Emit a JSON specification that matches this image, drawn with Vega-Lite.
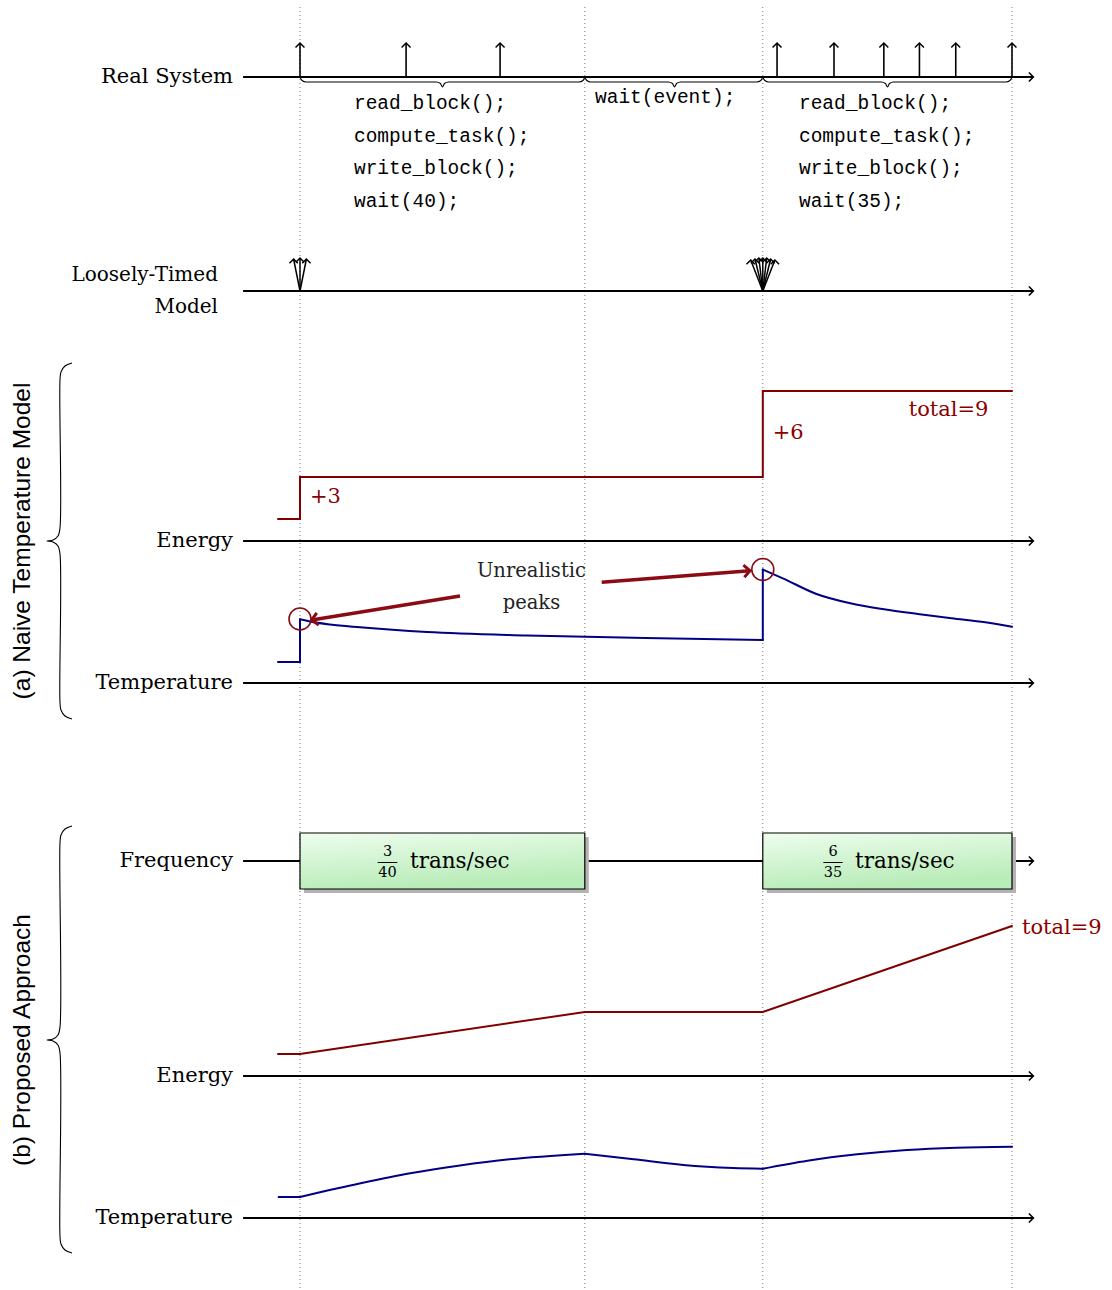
{
  "$schema": "https://vega.github.io/schema/vega-lite/v6.json",
  "width": 1112,
  "height": 1290,
  "autosize": "none",
  "padding": 0,
  "background": "white",
  "config": {"view": {"stroke": null}},
  "datasets": {
    "guides": [
      {"t": 0, "v": 128.3, "v2": 0},
      {"t": 40, "v": 128.3, "v2": 0},
      {"t": 65, "v": 128.3, "v2": 0},
      {"t": 100, "v": 128.3, "v2": 0}
    ],
    "axes": [
      {"lane": "Real System", "t": -8, "t2": 103, "v": 121.3},
      {"lane": "Loosely-Timed Model", "t": -8, "t2": 103, "v": 99.9},
      {"lane": "Energy (a)", "t": -8, "t2": 103, "v": 74.9},
      {"lane": "Temperature (a)", "t": -8, "t2": 103, "v": 60.7},
      {"lane": "Frequency (b)", "t": -8, "t2": 103, "v": 42.9},
      {"lane": "Energy (b)", "t": -8, "t2": 103, "v": 21.4},
      {"lane": "Temperature (b)", "t": -8, "t2": 103, "v": 7.2}
    ],
    "sysArrows": [
      {"t": 0, "v": 121.3, "v2": 124.7},
      {"t": 14.9, "v": 121.3, "v2": 124.7},
      {"t": 28.1, "v": 121.3, "v2": 124.7},
      {"t": 67.0, "v": 121.3, "v2": 124.7},
      {"t": 75.0, "v": 121.3, "v2": 124.7},
      {"t": 82.0, "v": 121.3, "v2": 124.7},
      {"t": 87.0, "v": 121.3, "v2": 124.7},
      {"t": 92.1, "v": 121.3, "v2": 124.7},
      {"t": 100, "v": 121.3, "v2": 124.7}
    ],
    "ltArrows": [
      {"t": 0, "v": 99.9, "t2": -0.9, "v2": 103.1},
      {"t": 0, "v": 99.9, "t2": 0, "v2": 103.2},
      {"t": 0, "v": 99.9, "t2": 0.9, "v2": 103.1},
      {"t": 65, "v": 99.9, "t2": 63.3, "v2": 103.0},
      {"t": 65, "v": 99.9, "t2": 63.9, "v2": 103.1},
      {"t": 65, "v": 99.9, "t2": 64.45, "v2": 103.2},
      {"t": 65, "v": 99.9, "t2": 65, "v2": 103.2},
      {"t": 65, "v": 99.9, "t2": 65.55, "v2": 103.2},
      {"t": 65, "v": 99.9, "t2": 66.1, "v2": 103.1},
      {"t": 65, "v": 99.9, "t2": 66.7, "v2": 103.0}
    ],
    "braces": [
      {"id": 1, "i": 0, "t": 0, "v": 121.3},
      {"id": 1, "i": 1, "t": 0.28, "v": 120.95},
      {"id": 1, "i": 2, "t": 0.84, "v": 120.8},
      {"id": 1, "i": 3, "t": 19.17, "v": 120.8},
      {"id": 1, "i": 4, "t": 19.73, "v": 120.65},
      {"id": 1, "i": 5, "t": 20.01, "v": 120.3},
      {"id": 1, "i": 6, "t": 20.29, "v": 120.65},
      {"id": 1, "i": 7, "t": 20.86, "v": 120.8},
      {"id": 1, "i": 8, "t": 39.19, "v": 120.8},
      {"id": 1, "i": 9, "t": 39.75, "v": 120.95},
      {"id": 1, "i": 10, "t": 40, "v": 121.3},
      {"id": 2, "i": 0, "t": 40, "v": 121.3},
      {"id": 2, "i": 1, "t": 40.28, "v": 120.95},
      {"id": 2, "i": 2, "t": 40.84, "v": 120.8},
      {"id": 2, "i": 3, "t": 51.76, "v": 120.8},
      {"id": 2, "i": 4, "t": 52.32, "v": 120.65},
      {"id": 2, "i": 5, "t": 52.6, "v": 120.3},
      {"id": 2, "i": 6, "t": 52.88, "v": 120.65},
      {"id": 2, "i": 7, "t": 53.44, "v": 120.8},
      {"id": 2, "i": 8, "t": 64.16, "v": 120.8},
      {"id": 2, "i": 9, "t": 64.72, "v": 120.95},
      {"id": 2, "i": 10, "t": 65, "v": 121.3},
      {"id": 3, "i": 0, "t": 65, "v": 121.3},
      {"id": 3, "i": 1, "t": 65.28, "v": 120.95},
      {"id": 3, "i": 2, "t": 65.84, "v": 120.8},
      {"id": 3, "i": 3, "t": 81.67, "v": 120.8},
      {"id": 3, "i": 4, "t": 82.23, "v": 120.65},
      {"id": 3, "i": 5, "t": 82.51, "v": 120.3},
      {"id": 3, "i": 6, "t": 82.79, "v": 120.65},
      {"id": 3, "i": 7, "t": 83.35, "v": 120.8},
      {"id": 3, "i": 8, "t": 99.16, "v": 120.8},
      {"id": 3, "i": 9, "t": 99.72, "v": 120.95},
      {"id": 3, "i": 10, "t": 100, "v": 121.3}
    ],
    "code": [
      {"t": 7.58, "v": 118.7, "text": "read_block();"},
      {"t": 7.58, "v": 115.4, "text": "compute_task();"},
      {"t": 7.58, "v": 112.2, "text": "write_block();"},
      {"t": 7.58, "v": 108.9, "text": "wait(40);"},
      {"t": 41.43, "v": 119.3, "text": "wait(event);"},
      {"t": 70.08, "v": 118.7, "text": "read_block();"},
      {"t": 70.08, "v": 115.4, "text": "compute_task();"},
      {"t": 70.08, "v": 112.2, "text": "write_block();"},
      {"t": 70.08, "v": 108.9, "text": "wait(35);"}
    ],
    "labels": [
      {"t": -9.41, "v": 121.3, "text": "Real System"},
      {"t": -9.41, "v": 74.9, "text": "Energy"},
      {"t": -9.41, "v": 60.7, "text": "Temperature"},
      {"t": -9.41, "v": 42.9, "text": "Frequency"},
      {"t": -9.41, "v": 21.4, "text": "Energy"},
      {"t": -9.41, "v": 7.2, "text": "Temperature"}
    ],
    "ltLabels": [
      {"t": -11.52, "v": 101.5, "text": "Loosely-Timed"},
      {"t": -11.52, "v": 98.3, "text": "Model"}
    ],
    "panelLabels": [
      {"t": -38.9, "v": 74.9, "text": "(a) Naive Temperature Model"},
      {"t": -38.9, "v": 25.0, "text": "(b) Proposed Approach"}
    ],
    "panelBraces": [
      {"id": "a", "i": 0, "t": -32.02, "v": 92.7},
      {"id": "a", "i": 1, "t": -33.01, "v": 92.4},
      {"id": "a", "i": 2, "t": -33.57, "v": 91.8},
      {"id": "a", "i": 3, "t": -33.71, "v": 91.0},
      {"id": "a", "i": 4, "t": -33.71, "v": 76.2},
      {"id": "a", "i": 5, "t": -33.99, "v": 75.4},
      {"id": "a", "i": 6, "t": -34.69, "v": 75.0},
      {"id": "a", "i": 7, "t": -35.53, "v": 74.9},
      {"id": "a", "i": 8, "t": -34.69, "v": 74.8},
      {"id": "a", "i": 9, "t": -33.99, "v": 74.4},
      {"id": "a", "i": 10, "t": -33.71, "v": 73.6},
      {"id": "a", "i": 11, "t": -33.71, "v": 58.8},
      {"id": "a", "i": 12, "t": -33.57, "v": 58.0},
      {"id": "a", "i": 13, "t": -33.01, "v": 57.4},
      {"id": "a", "i": 14, "t": -32.02, "v": 57.1},
      {"id": "b", "i": 0, "t": -32.02, "v": 46.4},
      {"id": "b", "i": 1, "t": -33.01, "v": 46.1},
      {"id": "b", "i": 2, "t": -33.57, "v": 45.5},
      {"id": "b", "i": 3, "t": -33.71, "v": 44.7},
      {"id": "b", "i": 4, "t": -33.71, "v": 26.3},
      {"id": "b", "i": 5, "t": -33.99, "v": 25.5},
      {"id": "b", "i": 6, "t": -34.69, "v": 25.1},
      {"id": "b", "i": 7, "t": -35.53, "v": 25.0},
      {"id": "b", "i": 8, "t": -34.69, "v": 24.9},
      {"id": "b", "i": 9, "t": -33.99, "v": 24.5},
      {"id": "b", "i": 10, "t": -33.71, "v": 23.7},
      {"id": "b", "i": 11, "t": -33.71, "v": 5.4},
      {"id": "b", "i": 12, "t": -33.57, "v": 4.6},
      {"id": "b", "i": 13, "t": -33.01, "v": 4.0},
      {"id": "b", "i": 14, "t": -32.02, "v": 3.7}
    ],
    "curves": [
      {"seg": "energyA", "kind": "energy", "part": "step", "i": 0, "t": -3.09, "v": 77.1},
      {"seg": "energyA", "kind": "energy", "part": "step", "i": 1, "t": 0, "v": 77.1},
      {"seg": "energyA", "kind": "energy", "part": "step", "i": 2, "t": 0, "v": 81.3},
      {"seg": "energyA", "kind": "energy", "part": "step", "i": 3, "t": 65, "v": 81.3},
      {"seg": "energyA", "kind": "energy", "part": "step", "i": 4, "t": 65, "v": 89.9},
      {"seg": "energyA", "kind": "energy", "part": "step", "i": 5, "t": 100, "v": 89.9},
      {"seg": "tempA-0", "kind": "temperature", "part": "step", "i": 0, "t": -3.09, "v": 62.8},
      {"seg": "tempA-0", "kind": "temperature", "part": "step", "i": 1, "t": 0, "v": 62.8},
      {"seg": "tempA-0", "kind": "temperature", "part": "step", "i": 2, "t": 0, "v": 67.07},
      {"seg": "tempA-1", "kind": "temperature", "part": "decay", "i": 0, "t": 0, "v": 67.07},
      {"seg": "tempA-1", "kind": "temperature", "part": "decay", "i": 1, "t": 1.4, "v": 66.85},
      {"seg": "tempA-1", "kind": "temperature", "part": "decay", "i": 2, "t": 4.21, "v": 66.55},
      {"seg": "tempA-1", "kind": "temperature", "part": "decay", "i": 3, "t": 8.43, "v": 66.27},
      {"seg": "tempA-1", "kind": "temperature", "part": "decay", "i": 4, "t": 17.84, "v": 65.8},
      {"seg": "tempA-1", "kind": "temperature", "part": "decay", "i": 5, "t": 31.88, "v": 65.45},
      {"seg": "tempA-1", "kind": "temperature", "part": "decay", "i": 6, "t": 50.56, "v": 65.17},
      {"seg": "tempA-1", "kind": "temperature", "part": "decay", "i": 7, "t": 65, "v": 65.0},
      {"seg": "tempA-2", "kind": "temperature", "part": "step", "i": 0, "t": 65, "v": 65.0},
      {"seg": "tempA-2", "kind": "temperature", "part": "step", "i": 1, "t": 65, "v": 72.05},
      {"seg": "tempA-3", "kind": "temperature", "part": "decay", "i": 0, "t": 65, "v": 72.05},
      {"seg": "tempA-3", "kind": "temperature", "part": "decay", "i": 1, "t": 67.81, "v": 71.17},
      {"seg": "tempA-3", "kind": "temperature", "part": "decay", "i": 2, "t": 72.54, "v": 69.6},
      {"seg": "tempA-3", "kind": "temperature", "part": "decay", "i": 3, "t": 77.29, "v": 68.67},
      {"seg": "tempA-3", "kind": "temperature", "part": "decay", "i": 4, "t": 82.02, "v": 68.07},
      {"seg": "tempA-3", "kind": "temperature", "part": "decay", "i": 5, "t": 86.77, "v": 67.6},
      {"seg": "tempA-3", "kind": "temperature", "part": "decay", "i": 6, "t": 91.5, "v": 67.17},
      {"seg": "tempA-3", "kind": "temperature", "part": "decay", "i": 7, "t": 96.25, "v": 66.77},
      {"seg": "tempA-3", "kind": "temperature", "part": "decay", "i": 8, "t": 100, "v": 66.33},
      {"seg": "energyB", "kind": "energy", "part": "step", "i": 0, "t": -3.09, "v": 23.6},
      {"seg": "energyB", "kind": "energy", "part": "step", "i": 1, "t": 0, "v": 23.6},
      {"seg": "energyB", "kind": "energy", "part": "step", "i": 2, "t": 40, "v": 27.8},
      {"seg": "energyB", "kind": "energy", "part": "step", "i": 3, "t": 65, "v": 27.8},
      {"seg": "energyB", "kind": "energy", "part": "step", "i": 4, "t": 100, "v": 36.4},
      {"seg": "tempB-0", "kind": "temperature", "part": "step", "i": 0, "t": -3.0, "v": 9.3},
      {"seg": "tempB-0", "kind": "temperature", "part": "step", "i": 1, "t": 0, "v": 9.3},
      {"seg": "tempB-1", "kind": "temperature", "part": "decay", "i": 0, "t": 0, "v": 9.3},
      {"seg": "tempB-1", "kind": "temperature", "part": "decay", "i": 1, "t": 8.51, "v": 10.67},
      {"seg": "tempB-1", "kind": "temperature", "part": "decay", "i": 2, "t": 15.48, "v": 11.67},
      {"seg": "tempB-1", "kind": "temperature", "part": "decay", "i": 3, "t": 22.46, "v": 12.45},
      {"seg": "tempB-1", "kind": "temperature", "part": "decay", "i": 4, "t": 29.42, "v": 13.07},
      {"seg": "tempB-1", "kind": "temperature", "part": "decay", "i": 5, "t": 40, "v": 13.63},
      {"seg": "tempB-2", "kind": "temperature", "part": "decay", "i": 0, "t": 40, "v": 13.63},
      {"seg": "tempB-2", "kind": "temperature", "part": "decay", "i": 1, "t": 46.87, "v": 13.07},
      {"seg": "tempB-2", "kind": "temperature", "part": "decay", "i": 2, "t": 53.83, "v": 12.5},
      {"seg": "tempB-2", "kind": "temperature", "part": "decay", "i": 3, "t": 60.81, "v": 12.2},
      {"seg": "tempB-2", "kind": "temperature", "part": "decay", "i": 4, "t": 65, "v": 12.13},
      {"seg": "tempB-3", "kind": "temperature", "part": "decay", "i": 0, "t": 65, "v": 12.13},
      {"seg": "tempB-3", "kind": "temperature", "part": "decay", "i": 1, "t": 71.28, "v": 12.93},
      {"seg": "tempB-3", "kind": "temperature", "part": "decay", "i": 2, "t": 78.24, "v": 13.57},
      {"seg": "tempB-3", "kind": "temperature", "part": "decay", "i": 3, "t": 85.22, "v": 14.0},
      {"seg": "tempB-3", "kind": "temperature", "part": "decay", "i": 4, "t": 92.19, "v": 14.23},
      {"seg": "tempB-3", "kind": "temperature", "part": "decay", "i": 5, "t": 100, "v": 14.33}
    ],
    "circles": [
      {"t": 0, "v": 67.1},
      {"t": 65, "v": 72.05}
    ],
    "redArrows": [
      {"dir": "left", "t": 22.47, "v": 69.4, "t2": 1.64, "v2": 67.0},
      {"dir": "right", "t": 42.37, "v": 70.77, "t2": 63.2, "v2": 71.93}
    ],
    "peaksText": [
      {"t": 32.5, "v": 71.9, "text": "Unrealistic"},
      {"t": 32.5, "v": 68.7, "text": "peaks"}
    ],
    "redLabels": [
      {"t": 1.4, "v": 79.3, "text": "+3"},
      {"t": 66.4, "v": 85.7, "text": "+6"},
      {"t": 85.5, "v": 88.0, "text": "total=9"},
      {"t": 101.4, "v": 36.2, "text": "total=9"}
    ],
    "boxes": [
      {"t": 0, "t2": 40, "v": 45.7, "v2": 40.1},
      {"t": 65, "t2": 100, "v": 45.7, "v2": 40.1}
    ],
    "fracText": [
      {"t": 12.29, "v": 43.85, "text": "3"},
      {"t": 12.29, "v": 41.75, "text": "40"},
      {"t": 74.86, "v": 43.85, "text": "6"},
      {"t": 74.86, "v": 41.75, "text": "35"}
    ],
    "fracBars": [
      {"t": 10.91, "t2": 13.67, "v": 42.75},
      {"t": 73.5, "t2": 76.22, "v": 42.75}
    ],
    "boxText": [
      {"t": 15.45, "v": 42.85, "text": "trans/sec"},
      {"t": 77.95, "v": 42.85, "text": "trans/sec"}
    ]
  },
  "encoding": {
    "x": {"field": "t", "type": "quantitative", "scale": {"domain": [-42.135, 114.045], "nice": false, "zero": false}, "axis": null},
    "y": {"field": "v", "type": "quantitative", "scale": {"domain": [0, 129], "nice": false, "zero": false}, "axis": null}
  },
  "layer": [
    {
      "data": {"name": "guides"},
      "mark": {"type": "rule", "stroke": "#777777", "strokeWidth": 1, "strokeDash": [1, 3]},
      "encoding": {"y2": {"field": "v2"}}
    },
    {
      "data": {"name": "axes"},
      "mark": {"type": "rule", "stroke": "black", "strokeWidth": 1.8},
      "encoding": {"x2": {"field": "t2"}}
    },
    {
      "data": {"name": "axes"},
      "mark": {"type": "point", "shape": "M-1,-1L0,0L-1,1", "size": 80, "filled": false, "stroke": "black", "strokeWidth": 1.6, "opacity": 1},
      "encoding": {"x": {"field": "t2", "type": "quantitative", "scale": {"domain": [-42.135, 114.045], "nice": false, "zero": false}, "axis": null}}
    },
    {
      "data": {"name": "boxes"},
      "mark": {"type": "rect", "fill": "#b3b3b3", "xOffset": 4, "x2Offset": 4, "yOffset": 4, "y2Offset": 4},
      "encoding": {"x2": {"field": "t2"}, "y2": {"field": "v2"}}
    },
    {
      "data": {"name": "boxes"},
      "mark": {
        "type": "rect",
        "fill": {"gradient": "linear", "x1": 0, "y1": 0, "x2": 0.3, "y2": 1, "stops": [{"offset": 0, "color": "#eefdee"}, {"offset": 1, "color": "#b8ecb8"}]},
        "stroke": "black",
        "strokeWidth": 1.2
      },
      "encoding": {"x2": {"field": "t2"}, "y2": {"field": "v2"}}
    },
    {
      "data": {"name": "sysArrows"},
      "mark": {"type": "rule", "stroke": "black", "strokeWidth": 1.6},
      "encoding": {"y2": {"field": "v2"}}
    },
    {
      "data": {"name": "sysArrows"},
      "mark": {"type": "point", "shape": "M-1,1L0,0L1,1", "size": 80, "filled": false, "stroke": "black", "strokeWidth": 1.5, "opacity": 1},
      "encoding": {"y": {"field": "v2", "type": "quantitative", "scale": {"domain": [0, 129], "nice": false, "zero": false}, "axis": null}}
    },
    {
      "data": {"name": "ltArrows"},
      "mark": {"type": "rule", "stroke": "black", "strokeWidth": 1.5},
      "encoding": {"x2": {"field": "t2"}, "y2": {"field": "v2"}}
    },
    {
      "data": {"name": "ltArrows"},
      "mark": {"type": "point", "shape": "M-1,1L0,0L1,1", "size": 70, "filled": false, "stroke": "black", "strokeWidth": 1.5, "opacity": 1},
      "encoding": {
        "x": {"field": "t2", "type": "quantitative", "scale": {"domain": [-42.135, 114.045], "nice": false, "zero": false}, "axis": null},
        "y": {"field": "v2", "type": "quantitative", "scale": {"domain": [0, 129], "nice": false, "zero": false}, "axis": null}
      }
    },
    {
      "data": {"name": "braces"},
      "mark": {"type": "line", "stroke": "black", "strokeWidth": 1.1, "interpolate": "monotone"},
      "encoding": {"detail": {"field": "id"}, "order": {"field": "i", "type": "quantitative"}}
    },
    {
      "data": {"name": "code"},
      "mark": {"type": "text", "font": "Liberation Mono", "fontSize": 19.5, "align": "left", "baseline": "middle", "fill": "black"},
      "encoding": {"text": {"field": "text"}}
    },
    {
      "data": {"name": "labels"},
      "mark": {"type": "text", "font": "DejaVu Serif", "fontSize": 21, "align": "right", "baseline": "middle", "fill": "black"},
      "encoding": {"text": {"field": "text"}}
    },
    {
      "data": {"name": "ltLabels"},
      "mark": {"type": "text", "font": "DejaVu Serif", "fontSize": 20, "align": "right", "baseline": "middle", "fill": "black"},
      "encoding": {"text": {"field": "text"}}
    },
    {
      "data": {"name": "panelLabels"},
      "mark": {"type": "text", "font": "Liberation Sans", "fontSize": 24.5, "align": "center", "baseline": "middle", "angle": 270, "fill": "black"},
      "encoding": {"text": {"field": "text"}}
    },
    {
      "data": {"name": "panelBraces"},
      "mark": {"type": "line", "stroke": "black", "strokeWidth": 1.1, "interpolate": "catmull-rom"},
      "encoding": {"detail": {"field": "id"}, "order": {"field": "i", "type": "quantitative"}}
    },
    {
      "data": {"name": "curves"},
      "transform": [{"filter": "datum.part == 'step'"}],
      "mark": {"type": "line", "strokeWidth": 2, "interpolate": "linear", "strokeCap": "round"},
      "encoding": {
        "detail": {"field": "seg"},
        "order": {"field": "i", "type": "quantitative"},
        "color": {"field": "kind", "type": "nominal", "scale": {"domain": ["energy", "temperature"], "range": ["#800000", "#000085"]}, "legend": null}
      }
    },
    {
      "data": {"name": "curves"},
      "transform": [{"filter": "datum.part == 'decay'"}],
      "mark": {"type": "line", "strokeWidth": 2, "interpolate": "monotone", "strokeCap": "round"},
      "encoding": {
        "detail": {"field": "seg"},
        "order": {"field": "i", "type": "quantitative"},
        "color": {"field": "kind", "type": "nominal", "scale": {"domain": ["energy", "temperature"], "range": ["#800000", "#000085"]}, "legend": null}
      }
    },
    {
      "data": {"name": "circles"},
      "mark": {"type": "point", "shape": "circle", "size": 484, "filled": false, "stroke": "#8b0a14", "strokeWidth": 1.6, "opacity": 1}
    },
    {
      "data": {"name": "redArrows"},
      "mark": {"type": "rule", "stroke": "#8b0a14", "strokeWidth": 3.5},
      "encoding": {"x2": {"field": "t2"}, "y2": {"field": "v2"}}
    },
    {
      "data": {"name": "redArrows"},
      "transform": [{"filter": "datum.dir == 'left'"}],
      "mark": {"type": "point", "shape": "M-1,-1L0,0L-1,1", "size": 150, "filled": false, "stroke": "#8b0a14", "strokeWidth": 3, "angle": 170.8, "opacity": 1},
      "encoding": {
        "x": {"field": "t2", "type": "quantitative", "scale": {"domain": [-42.135, 114.045], "nice": false, "zero": false}, "axis": null},
        "y": {"field": "v2", "type": "quantitative", "scale": {"domain": [0, 129], "nice": false, "zero": false}, "axis": null}
      }
    },
    {
      "data": {"name": "redArrows"},
      "transform": [{"filter": "datum.dir == 'right'"}],
      "mark": {"type": "point", "shape": "M-1,-1L0,0L-1,1", "size": 150, "filled": false, "stroke": "#8b0a14", "strokeWidth": 3, "angle": 355.5, "opacity": 1},
      "encoding": {
        "x": {"field": "t2", "type": "quantitative", "scale": {"domain": [-42.135, 114.045], "nice": false, "zero": false}, "axis": null},
        "y": {"field": "v2", "type": "quantitative", "scale": {"domain": [0, 129], "nice": false, "zero": false}, "axis": null}
      }
    },
    {
      "data": {"name": "peaksText"},
      "mark": {"type": "text", "font": "DejaVu Serif", "fontSize": 19.5, "align": "center", "baseline": "middle", "fill": "#222222"},
      "encoding": {"text": {"field": "text"}}
    },
    {
      "data": {"name": "redLabels"},
      "mark": {"type": "text", "font": "DejaVu Serif", "fontSize": 21, "align": "left", "baseline": "middle", "fill": "#8b0000"},
      "encoding": {"text": {"field": "text"}}
    },
    {
      "data": {"name": "fracText"},
      "mark": {"type": "text", "font": "DejaVu Serif", "fontSize": 14.5, "align": "center", "baseline": "middle", "fill": "black"},
      "encoding": {"text": {"field": "text"}}
    },
    {
      "data": {"name": "fracBars"},
      "mark": {"type": "rule", "stroke": "black", "strokeWidth": 1},
      "encoding": {"x2": {"field": "t2"}}
    },
    {
      "data": {"name": "boxText"},
      "mark": {"type": "text", "font": "DejaVu Serif", "fontSize": 21.5, "align": "left", "baseline": "middle", "fill": "black"},
      "encoding": {"text": {"field": "text"}}
    }
  ]
}
